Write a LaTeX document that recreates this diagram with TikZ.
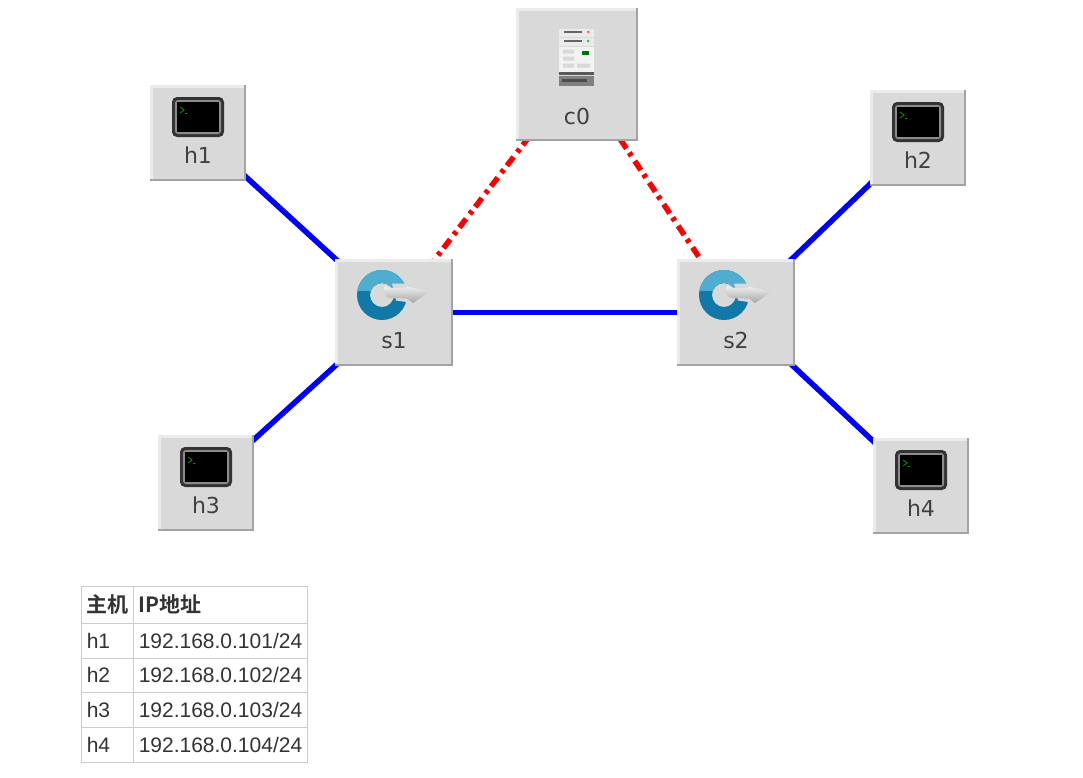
\documentclass[tikz,border=0pt]{standalone}
\usepackage{fontspec}
\setmainfont{Liberation Sans}
\newfontfamily\tilefont{DejaVu Sans}
\newfontfamily\cjkbold[BoldFont={Noto Sans CJK SC Bold}]{Noto Sans CJK SC}
\usetikzlibrary{backgrounds,arrows.meta}
\definecolor{tilegray}{HTML}{D9D9D9}
\definecolor{tilelight}{HTML}{EBEBEB}
\definecolor{tiledark}{HTML}{A3A3A3}
\definecolor{cellline}{HTML}{CCCCCC}
\definecolor{celltext}{HTML}{333333}
\definecolor{ringtop}{HTML}{4FAECF}
\definecolor{ringbot}{HTML}{1079A8}
\newcommand{\tilelabel}[2]{\raisebox{#1}[0pt][0pt]{#2}}
\tikzset{
  x=1pt,y=-1pt,
  tile/.style={rectangle,fill=tilegray,inner sep=0pt,font=\tilefont\fontsize{22}{22}\selectfont,text=black!75,
    path picture={
      \fill[tilelight] (path picture bounding box.north west) rectangle ([yshift=-2.5pt]path picture bounding box.north east);
      \fill[tilelight] (path picture bounding box.north west) rectangle ([xshift=2.5pt]path picture bounding box.south west);
      \fill[tiledark] (path picture bounding box.south west) rectangle ([yshift=2.5pt]path picture bounding box.south east);
      \fill[tiledark] (path picture bounding box.north east) rectangle ([xshift=-2.5pt]path picture bounding box.south east);
    }},
  hosttile/.style={tile,minimum width=96pt,minimum height=96pt},
  switchtile/.style={tile,minimum width=118pt,minimum height=107pt},
  ctrltile/.style={tile,minimum width=122pt,minimum height=133pt},
  datalink/.style={draw=blue,line width=5.5pt},
  ctrllink/.style={draw=red,line width=5.5pt,dash pattern=on 11pt off 5pt on 4pt off 6pt},
  cell/.style={rectangle,draw=cellline,line width=1.5pt,anchor=north west,inner xsep=5.5pt,inner ysep=0pt,
    align=left,text height=19pt,text depth=4pt,text=celltext,font=\fontsize{21}{24}\selectfont},
  namecell/.style={cell,minimum width=52pt,text width=41pt},
  addrcell/.style={cell,minimum width=174pt,text width=163pt},
  headfont/.style={font=\cjkbold\bfseries\fontsize{21}{24}\selectfont},
  terminal/.pic={
    \fill[black!80,rounded corners=5pt] (-26,-36) rectangle (26,4);
    \fill[black!45,rounded corners=3pt] (-23,-33) rectangle (23,1);
    \fill[black] (-21,-31) rectangle (21,-1);
    \draw[green!60!black,line width=.8pt] (-18,-26) -- (-14,-23) -- (-18,-20);
    \draw[green!60!black,line width=.8pt] (-13,-19.5) -- (-11,-19.5);
  },
  switchicon/.pic={
    \fill[ringbot,even odd rule] (-12,-17.5) circle (25pt) (-12,-17.5) circle (12pt);
    \begin{scope}
      \clip (-40,-45) rectangle (20,-22);
      \fill[ringtop,even odd rule] (-12,-17.5) circle (25pt) (-12,-17.5) circle (12pt);
    \end{scope}
    \fill[tilegray] (-2,-29) -- (16,-29) -- (16,-10) -- (2,-12) -- cycle;
    \shade[top color=black!6,bottom color=black!35]
      (-9,-26.5) .. controls (-4,-24) and (4,-24) .. (11,-24) -- (12,-26) -- (36,-21) -- (19,-9.5) -- (13,-14)
      .. controls (6,-14) and (0,-14) .. (-4,-14.5) .. controls (-9,-15) and (-13,-21) .. cycle;
  },
  servericon/.pic={
    \fill[black!8] (-18,-46) rectangle (17,-38);
    \fill[black!60] (-13,-44) rectangle (5,-41.5);
    \fill[red!60] (11,-42.5) circle (1.5pt);
    \fill[black!8] (-18,-37) rectangle (17,-29);
    \fill[black!60] (-13,-35) rectangle (5,-32.5);
    \fill[green!50!gray] (11,-33.5) circle (1.5pt);
    \fill[black!5] (-18,-28) rectangle (17,-3);
    \fill[black!15] (-14,-25) rectangle (-3,-21) (-14,-18) rectangle (-3,-14) (-14,-11) rectangle (-3,-7)
                    (0,-11) rectangle (13,-7);
    \fill[green!45!black] (5,-24) rectangle (12,-20);
    \fill[black!65] (-18,-3) rectangle (17,0);
    \fill[black!50] (-18,1) rectangle (17,11);
    \fill[black!70] (-15,4) rectangle (10,7);
  },
}
\begin{document}
\begin{tikzpicture}
\useasboundingbox (0,0) rectangle (1083,777);
\node[hosttile] (h1) at (198,133) {\tilelabel{-30pt}{h1}};
\node[hosttile] (h2) at (918,138) {\tilelabel{-30pt}{h2}};
\node[hosttile] (h3) at (206,483) {\tilelabel{-30pt}{h3}};
\node[hosttile] (h4) at (921,486) {\tilelabel{-30pt}{h4}};
\node[switchtile] (s1) at (394,312.5) {\tilelabel{-36pt}{s1}};
\node[switchtile] (s2) at (736,312.5) {\tilelabel{-36pt}{s2}};
\node[ctrltile] (c0) at (577,74.5) {\tilelabel{-50pt}{c0}};
\pic at (h1) {terminal};
\pic at (h2) {terminal};
\pic at (h3) {terminal};
\pic at (h4) {terminal};
\pic at (s1) {switchicon};
\pic at (s2) {switchicon};
\pic at (c0) {servericon};
\begin{scope}[on background layer]
  \draw[datalink] (h1.center) -- (s1.center);
  \draw[datalink] (h3.center) -- (s1.center);
  \draw[datalink] (h2.center) -- (s2.center);
  \draw[datalink] (h4.center) -- (s2.center);
  \draw[datalink] (s1.center) -- (s2.center);
  \draw[ctrllink] (c0.center) -- (s1.center);
  \draw[ctrllink] (c0.center) -- (s2.center);
\end{scope}
\node[namecell,headfont,minimum height=37pt] (t00) at (80.5,585.5) {主机};
\node[addrcell,headfont,minimum height=37pt] (t01) at (132.5,585.5) {IP地址};
\node[namecell,minimum height=35pt] (t10) at (80.5,622.5) {h1};
\node[addrcell,minimum height=35pt] (t11) at (132.5,622.5) {192.168.0.101/24};
\node[namecell,minimum height=34pt] (t20) at (80.5,657.5) {h2};
\node[addrcell,minimum height=34pt] (t21) at (132.5,657.5) {192.168.0.102/24};
\node[namecell,minimum height=35pt] (t30) at (80.5,691.5) {h3};
\node[addrcell,minimum height=35pt] (t31) at (132.5,691.5) {192.168.0.103/24};
\node[namecell,minimum height=35pt] (t40) at (80.5,726.5) {h4};
\node[addrcell,minimum height=35pt] (t41) at (132.5,726.5) {192.168.0.104/24};
\end{tikzpicture}
\end{document}
